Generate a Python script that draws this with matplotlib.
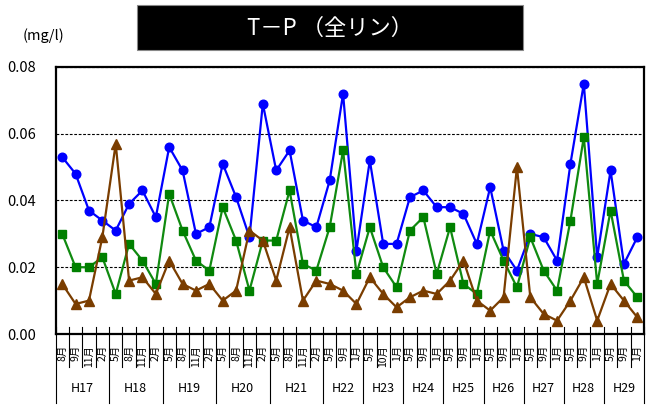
import matplotlib
matplotlib.use('Agg')
import matplotlib.pyplot as plt
import matplotlib.transforms as mtransforms
from matplotlib.patches import Rectangle

plt.rcParams['font.family'] = ['Noto Sans CJK JP', 'DejaVu Sans']

# data (mg/l)
years = ['H17', 'H18', 'H19', 'H20', 'H21', 'H22', 'H23',
         'H24', 'H25', 'H26', 'H27', 'H28', 'H29']
year_months = [
    ['8月', '9月', '11月', '2月'],
    ['5月', '8月', '11月', '2月'],
    ['5月', '8月', '11月', '2月'],
    ['5月', '8月', '11月', '2月'],
    ['5月', '8月', '11月', '2月'],
    ['5月', '9月', '1月'],
    ['5月', '10月', '1月'],
    ['5月', '9月', '1月'],
    ['5月', '9月', '1月'],
    ['5月', '9月', '1月'],
    ['5月', '9月', '1月'],
    ['5月', '9月', '1月'],
    ['5月', '9月', '1月'],
]

blue = [0.053, 0.048, 0.037, 0.034, 0.031, 0.039, 0.043, 0.035, 0.056, 0.049,
        0.030, 0.032, 0.051, 0.041, 0.029, 0.069, 0.049, 0.055, 0.034, 0.032,
        0.046, 0.072, 0.025, 0.052, 0.027, 0.027, 0.041, 0.043, 0.038, 0.038,
        0.036, 0.027, 0.044, 0.025, 0.019, 0.030, 0.029, 0.022, 0.051, 0.075,
        0.023, 0.049, 0.021, 0.029]
green = [0.030, 0.020, 0.020, 0.023, 0.012, 0.027, 0.022, 0.015, 0.042, 0.031,
         0.022, 0.019, 0.038, 0.028, 0.013, 0.028, 0.028, 0.043, 0.021, 0.019,
         0.032, 0.055, 0.018, 0.032, 0.020, 0.014, 0.031, 0.035, 0.018, 0.032,
         0.015, 0.012, 0.031, 0.022, 0.014, 0.029, 0.019, 0.013, 0.034, 0.059,
         0.015, 0.037, 0.016, 0.011]
brown = [0.015, 0.009, 0.010, 0.029, 0.057, 0.016, 0.017, 0.012, 0.022, 0.015,
         0.013, 0.015, 0.010, 0.013, 0.031, 0.028, 0.016, 0.032, 0.010, 0.016,
         0.015, 0.013, 0.009, 0.017, 0.012, 0.008, 0.011, 0.013, 0.012, 0.016,
         0.022, 0.010, 0.007, 0.011, 0.050, 0.011, 0.006, 0.004, 0.010, 0.017,
         0.004, 0.015, 0.010, 0.005]

months = [m for ms in year_months for m in ms]
n = len(months)
x = list(range(n))

fig = plt.figure(figsize=(6.54, 4.05), dpi=100)
ax = fig.add_axes([0.0849, 0.1753, 0.8998, 0.6593])

ax.plot(x, blue, color='#0000ff', lw=1.6, marker='o', markersize=6.2, zorder=3)
ax.plot(x, green, color='#108a10', lw=1.6, marker='s', markersize=5.8,
        markerfacecolor='#008000', markeredgecolor='#008000', zorder=4)
ax.plot(x, brown, color='#7a3d00', lw=1.6, marker='^', markersize=6.5, zorder=5)

ax.set_xlim(-0.5, n - 0.5)
ax.set_ylim(0, 0.08)
ax.set_yticks([0, 0.02, 0.04, 0.06, 0.08])
ax.set_yticklabels(['0.00', '0.02', '0.04', '0.06', '0.08'], fontsize=10.5)
ax.tick_params(axis='y', length=0, pad=14)
ax.grid(axis='y', color='black', linestyle=(0, (2.5, 1.5)), lw=0.8)
ax.set_axisbelow(True)

ax.set_xticks(x)
ax.set_xticklabels(months, rotation=90, fontsize=7.5)
ax.tick_params(axis='x', length=0, pad=8)

for s in ax.spines.values():
    s.set_linewidth(1.6)

# two-level category axis lines
trans = mtransforms.blended_transform_factory(ax.transData, ax.transAxes)
bounds = [0]
for ms in year_months:
    bounds.append(bounds[-1] + len(ms))
for b in range(n + 1):
    bottom = -0.258 if b in bounds else -0.124
    ax.plot([b - 0.5, b - 0.5], [0.026, bottom], transform=trans,
            color='black', lw=0.8, clip_on=False)
for i, y in enumerate(years):
    c = (bounds[i] + bounds[i + 1]) / 2 - 0.5
    ax.text(c, -0.205, y, transform=trans, ha='center', va='center',
            fontsize=9)

# title box and unit
fig.patches.append(Rectangle((0.2095, 0.8765), 0.590, 0.111,
                             transform=fig.transFigure, facecolor='black',
                             edgecolor='#888888', lw=0.8))
fig.text(0.5046, 0.931, 'T－P （全リン）', color='white', fontsize=16,
         ha='center', va='center')
fig.text(0.067, 0.913, '(mg/l)', fontsize=10.5, ha='center', va='center')

fig.savefig('out.png', dpi=100)
